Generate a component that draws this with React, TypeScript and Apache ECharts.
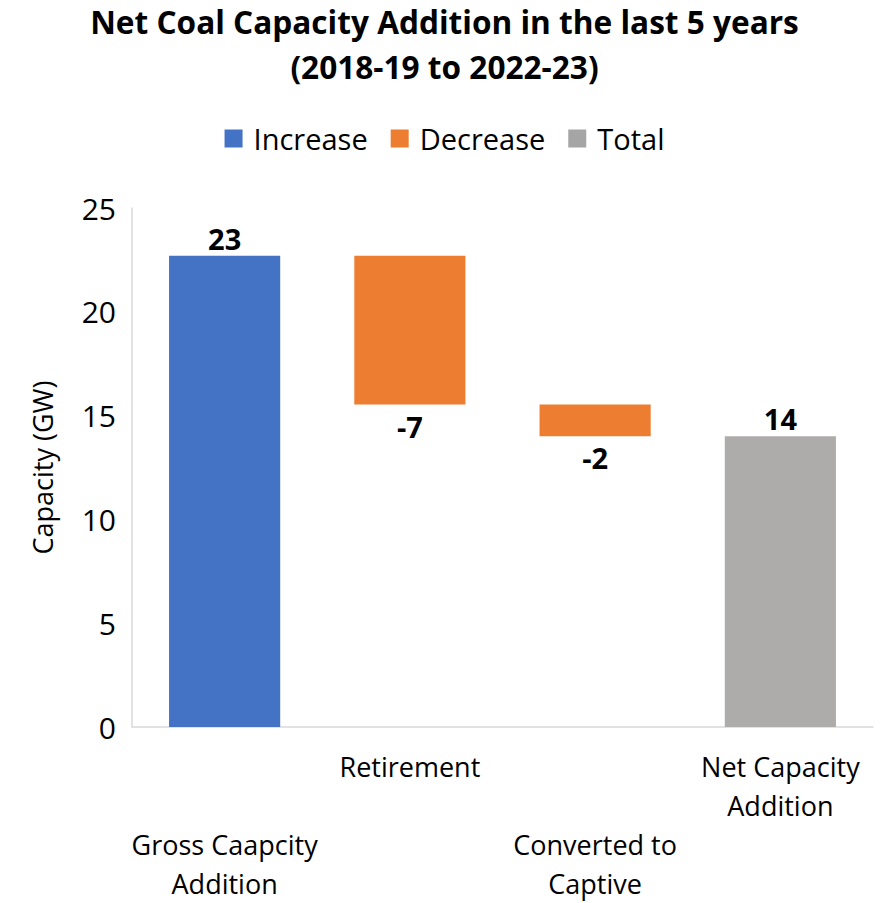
import React, { useEffect, useRef } from "react";
import * as echarts from "echarts";

const categories = [
  "Gross Caapcity\nAddition",
  "Retirement",
  "Converted to\nCaptive",
  "Net Capacity\nAddition",
];
const grossAddition = 22.7;
const retirement = -7.17;
const convertedToCaptive = -1.53;
const netAddition = 14.0;
const yTicks = [0, 5, 10, 15, 20, 25];

const FONT = "'Open Sans', 'Noto Sans', sans-serif";

export default function App() {
  const ref = useRef<HTMLDivElement>(null);

  useEffect(() => {
    if (!ref.current) return;
    const chart = echarts.init(ref.current, undefined, { renderer: "svg" });

    const afterRetirement = grossAddition + retirement;
    const afterCaptive = afterRetirement + convertedToCaptive;
    const base = [0, afterRetirement, afterCaptive, 0];
    const increase = [grossAddition, "-", "-", "-"];
    const decrease = ["-", -retirement, -convertedToCaptive, "-"];
    const total = ["-", "-", "-", netAddition];
    const signed = [grossAddition, retirement, convertedToCaptive, netAddition];

    const labelStyle = {
      show: true,
      fontFamily: FONT,
      fontSize: 29,
      fontWeight: "bold" as const,
      color: "#000",
      formatter: (p: any) => String(Math.round(signed[p.dataIndex])),
    };

    chart.setOption({
      animation: false,
      backgroundColor: "#fff",
      title: {
        text: "Net Coal Capacity Addition in the last 5 years\n(2018-19 to 2022-23)",
        left: "center",
        top: -1,
        padding: 0,
        textStyle: {
          fontFamily: FONT,
          fontSize: 31.6,
          fontWeight: "bold",
          color: "#000",
          lineHeight: 45,
        },
      },
      legend: {
        top: 124,
        left: "center",
        padding: 0,
        icon: "rect",
        itemWidth: 18,
        itemHeight: 18,
        itemGap: 23,
        data: [
          { name: "Increase" },
          { name: "Decrease" },
          { name: "Total", itemStyle: { color: "#A5A5A5" } },
        ],
        textStyle: {
          fontFamily: FONT,
          fontSize: 29,
          color: "#000",
          padding: [0, 0, 0, 6],
        },
      },
      grid: { left: 132, right: 16, top: 208, bottom: 175, containLabel: false },
      xAxis: {
        type: "category",
        data: categories,
        axisLine: { show: true, lineStyle: { color: "#D9D9D9", width: 1.5 } },
        axisTick: { show: false },
        axisLabel: {
          interval: 0,
          margin: 20,
          fontFamily: FONT,
          fontSize: 27,
          color: "#000",
          lineHeight: 39,
          formatter: (v: string, i: number) => (i % 2 === 0 ? "\n\n" + v : v),
        },
      },
      yAxis: {
        type: "value",
        min: yTicks[0],
        max: yTicks[yTicks.length - 1],
        interval: 5,
        name: "Capacity (GW)",
        nameLocation: "middle",
        nameGap: 76,
        nameTextStyle: { fontFamily: FONT, fontSize: 27, color: "#000" },
        axisLine: { show: true, lineStyle: { color: "#D9D9D9", width: 1.5 } },
        axisTick: { show: false },
        splitLine: { show: false },
        axisLabel: { margin: 16, fontFamily: FONT, fontSize: 30, color: "#000" },
      },
      series: [
        {
          name: "base",
          type: "bar",
          stack: "w",
          barWidth: "60%",
          data: base,
          itemStyle: { color: "transparent" },
          emphasis: { disabled: true },
          silent: true,
        },
        {
          name: "Increase",
          type: "bar",
          stack: "w",
          barWidth: "60%",
          data: increase,
          itemStyle: { color: "#4472C4" },
          label: { ...labelStyle, position: "top", distance: 3 },
        },
        {
          name: "Decrease",
          type: "bar",
          stack: "w",
          barWidth: "60%",
          data: decrease,
          itemStyle: { color: "#ED7D31" },
          label: { ...labelStyle, position: "bottom", distance: 7 },
        },
        {
          name: "Total",
          type: "bar",
          stack: "w",
          barWidth: "60%",
          data: total,
          itemStyle: { color: "#AEABAB" },
          label: { ...labelStyle, position: "top", distance: 3 },
        },
      ],
    });

    return () => chart.dispose();
  }, []);

  return (
    <div
      ref={ref}
      style={{ position: "absolute", left: 0, top: 0, width: 889, height: 903 }}
    />
  );
}
